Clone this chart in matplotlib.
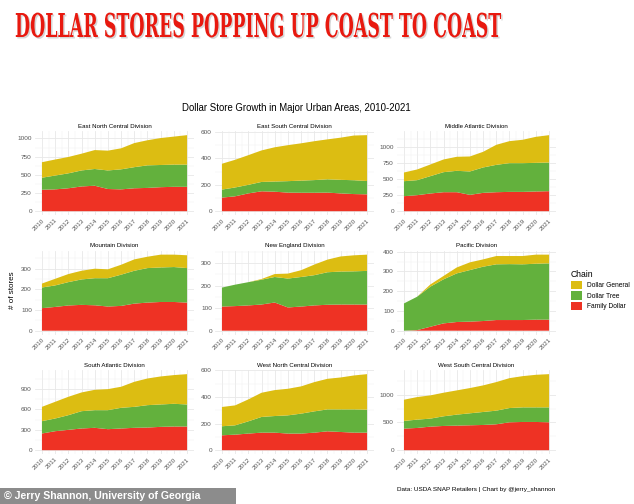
import matplotlib
matplotlib.use('Agg')
import matplotlib.pyplot as plt
from matplotlib.patches import Patch, Rectangle
from matplotlib.transforms import Affine2D
import matplotlib.patheffects as pe

plt.rcParams['font.family'] = ['Liberation Sans', 'DejaVu Sans']

years = list(range(2010, 2022))

divisions = ['East North Central Division', 'East South Central Division', 'Middle Atlantic Division',
             'Mountain Division', 'New England Division', 'Pacific Division',
             'South Atlantic Division', 'West North Central Division', 'West South Central Division']

# store counts per chain, one list per division (2010-2021)
family_dollar = {
    'East North Central Division': [295, 300, 315, 340, 350, 305, 300, 315, 320, 330, 335, 335],
    'East South Central Division': [103, 113, 135, 151, 148, 141, 140, 140, 141, 135, 130, 128],
    'Middle Atlantic Division': [233, 249, 275, 295, 295, 254, 285, 295, 300, 300, 306, 311],
    'Mountain Division': [109, 115, 122, 125, 123, 117, 120, 131, 136, 139, 139, 136],
    'New England Division': [107, 109, 112, 116, 125, 103, 107, 112, 115, 116, 116, 116],
    'Pacific Division': [0, 3, 20, 37, 44, 46, 49, 54, 54, 54, 56, 56],
    'South Atlantic Division': [246, 280, 300, 320, 330, 310, 320, 330, 334, 344, 349, 349],
    'West North Central Division': [112, 117, 125, 132, 132, 125, 125, 132, 142, 137, 132, 132],
    'West South Central Division': [389, 401, 425, 437, 443, 449, 455, 467, 503, 509, 509, 503],
}
dollar_tree = {
    'East North Central Division': [165, 190, 205, 220, 230, 255, 275, 290, 310, 305, 305, 305],
    'East South Central Division': [61, 67, 65, 71, 77, 87, 92, 96, 101, 103, 105, 101],
    'Middle Atlantic Division': [233, 233, 269, 311, 332, 363, 394, 425, 446, 446, 445, 445],
    'Mountain Division': [100, 104, 113, 123, 131, 137, 151, 159, 167, 167, 169, 167],
    'New England Division': [84, 95, 103, 110, 113, 128, 131, 134, 144, 146, 147, 149],
    'Pacific Division': [138, 169, 203, 223, 246, 261, 275, 282, 283, 282, 283, 285],
    'South Atlantic Division': [182, 187, 216, 255, 260, 280, 305, 309, 330, 330, 335, 325],
    'West North Central Division': [68, 70, 92, 118, 125, 137, 150, 160, 165, 170, 175, 173],
    'West South Central Division': [138, 150, 144, 174, 198, 216, 234, 246, 257, 263, 263, 269],
}
dollar_general = {
    'East North Central Division': [213, 220, 225, 230, 260, 272, 289, 331, 345, 370, 385, 405],
    'East South Central Division': [196, 210, 225, 239, 260, 273, 283, 295, 303, 320, 339, 348],
    'Middle Atlantic Division': [135, 166, 181, 197, 218, 233, 243, 311, 342, 363, 404, 425],
    'Mountain Division': [19, 32, 39, 42, 46, 43, 48, 55, 55, 62, 60, 62],
    'New England Division': [0, 0, 0, 3, 13, 22, 30, 47, 56, 67, 71, 72],
    'Pacific Division': [0, 0, 11, 17, 30, 39, 37, 42, 41, 42, 46, 44],
    'South Atlantic Division': [211, 246, 271, 276, 300, 310, 310, 369, 393, 413, 423, 447],
    'West North Central Division': [145, 150, 165, 182, 195, 200, 205, 220, 230, 240, 255, 267],
    'West South Central Division': [383, 407, 419, 425, 437, 455, 479, 515, 539, 563, 587, 599],
}
y_breaks = {
    'East North Central Division': [0, 250, 500, 750, 1000],
    'East South Central Division': [0, 200, 400, 600],
    'Middle Atlantic Division': [0, 250, 500, 750, 1000],
    'Mountain Division': [0, 100, 200, 300],
    'New England Division': [0, 100, 200, 300],
    'Pacific Division': [0, 100, 200, 300, 400],
    'South Atlantic Division': [0, 300, 600, 900],
    'West North Central Division': [0, 200, 400, 600],
    'West South Central Division': [0, 500, 1000],
}

chains = ['Dollar General', 'Dollar Tree', 'Family Dollar']
colors = {'Dollar General': '#dcbd12', 'Dollar Tree': '#63b13d', 'Family Dollar': '#ee3224'}


class Stretch(pe.AbstractPathEffect):
    # stretch text vertically around baseline y0 (display coords), with a soft drop shadow
    def __init__(self, y0, sy):
        super().__init__()
        self.y0 = y0
        self.sy = sy

    def draw_path(self, renderer, gc, tpath, affine, rgbFace=None):
        t = affine + Affine2D().translate(0, -self.y0).scale(1, self.sy).translate(0, self.y0)
        gc0 = renderer.new_gc()
        gc0.copy_properties(gc)
        gc0.set_alpha(0.35)
        renderer.draw_path(gc0, tpath, t + Affine2D().translate(1.5, -1.5), (0.55, 0.55, 0.55))
        gc0.restore()
        renderer.draw_path(gc, tpath, t, rgbFace)


fig = plt.figure(figsize=(6.34, 5.04), dpi=100)
fig.patch.set_facecolor('white')

col_x = [0.0547, 0.3386, 0.6257]
row_y = [0.5734, 0.3363, 0.0992]
w, h = 0.2518, 0.166

for i, div in enumerate(divisions):
    r, c = divmod(i, 3)
    ax = fig.add_axes([col_x[c], row_y[r], w, h])
    fd = family_dollar[div]
    dt = dollar_tree[div]
    dg = dollar_general[div]
    ax.stackplot(years, fd, dt, dg, colors=[colors['Family Dollar'], colors['Dollar Tree'],
                                            colors['Dollar General']], lw=0)
    top = max(a + b + c_ for a, b, c_ in zip(fd, dt, dg))
    ax.set_ylim(-0.05 * top, top * 1.05)
    ax.set_xlim(2010 - 0.55, 2021 + 0.55)
    brk = y_breaks[div]
    step = brk[1] - brk[0]
    ax.set_yticks(brk)
    ax.set_yticks([b + step / 2 for b in brk if b + step / 2 < top * 1.05], minor=True)
    ax.set_xticks(years)
    ax.set_xticks([y + 0.5 for y in years[:-1]], minor=True)
    ax.set_xticklabels([str(y) for y in years], rotation=45, ha='right', rotation_mode='anchor')
    ax.grid(True, which='major', color='#e8e8e8', lw=0.6)
    ax.grid(True, which='minor', color='#f0f0f0', lw=0.35)
    ax.set_axisbelow(True)
    for s in ax.spines.values():
        s.set_visible(False)
    ax.tick_params(which='both', length=0, labelsize=4.6, labelcolor='#555555', pad=2)
    ax.set_title(div, fontsize=4.4, pad=2.5)

fig.text(0.019, 0.425, '# of stores', rotation=90, ha='center', va='center', fontsize=5.8)

handles = [Patch(facecolor=colors[ch], edgecolor='none') for ch in chains]
leg = fig.legend(handles, chains, title='Chain', loc='upper left', bbox_to_anchor=(565 / 634, 1 - 264 / 504),
                 frameon=False, fontsize=4.8, title_fontsize=6.2, handlelength=1.6, handleheight=1.6,
                 labelspacing=0.28, handletextpad=0.8, alignment='left')

fig.text(0.4677, 1 - 108 / 504, 'Dollar Store Growth in Major Urban Areas, 2010-2021',
         ha='center', va='center', fontsize=6.9)

fig.text(397 / 634, 1 - 489 / 504, 'Data: USDA SNAP Retailers | Chart by @jerry_shannon',
         ha='left', va='center', fontsize=4.6)

fig.patches.append(Rectangle((0, 0), 236 / 634, 16 / 504, transform=fig.transFigure,
                             facecolor='#8c8c8c', edgecolor='none'))
fig.text(4 / 634, 8 / 504, '\u00a9 Jerry Shannon, University of Georgia', color='white',
         fontweight='bold', fontsize=7.6, ha='left', va='center')

# headline: sized to 486 px wide, then stretched so caps are ~24 px tall
head_y = 1 - 37 / 504
head = fig.text(15 / 634, head_y, 'DOLLAR STORES POPPING UP COAST TO COAST',
                family='DejaVu Serif', fontweight='bold', fontsize=23.7,
                color='#e8190f', ha='left', va='baseline')
fig.canvas.draw()
bw = head.get_window_extent().width
head.set_fontsize(23.7 * 486 / bw)
y0 = fig.transFigure.transform((0, head_y))[1]
head.set_path_effects([Stretch(y0, bw / 486)])

fig.savefig('out.png', dpi=100)
